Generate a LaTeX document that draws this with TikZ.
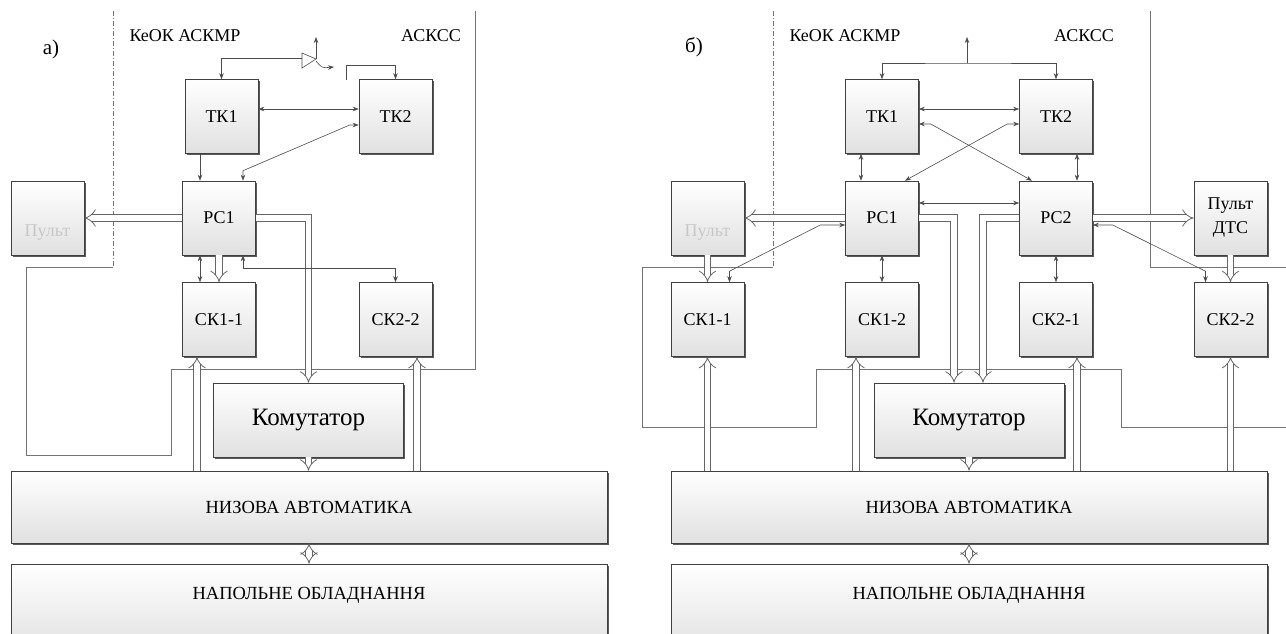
\documentclass[tikz,border=0pt]{standalone}
\usepackage{fontspec}
\setmainfont{Liberation Serif}
\usetikzlibrary{arrows.meta,shadows}
\newcommand{\boxfnt}   {\fontsize{18}{24}\selectfont}
\newcommand{\bigfnt}   {\fontsize{25}{28}\selectfont}
\newcommand{\rowfnt}   {\fontsize{18.5}{22}\selectfont}

\begin{document}
\begin{tikzpicture}[x=1pt,y=-1pt,
   blk/.style={draw=black!75,line width=0.6pt,top color=white,bottom color=black!12,
      minimum width=73pt,minimum height=74pt,inner sep=0pt,align=center,font=\boxfnt,
      drop shadow={shadow xshift=1.6pt,shadow yshift=-1.6pt,fill=black!65,opacity=1}},
   kom/.style={blk,minimum width=190pt,font=\bigfnt},
   row/.style={blk,minimum width=596pt,minimum height=72pt,font=\rowfnt},
   txt/.style={inner sep=0pt,font=\boxfnt},
   ln/.style={draw=black!70,line width=0.6pt},
   arr/.style={ln,-{Stealth[length=6pt,width=4.5pt]}},
   arr2/.style={ln,{Stealth[length=6pt,width=4.5pt]}-{Stealth[length=6pt,width=4.5pt]}},
   hol/.style={draw=black!60,line width=0.8pt,double=white,double distance=5.5pt,-{Implies}},
   hol2/.style={hol,{Implies}-{Implies}},
   bound/.style={draw=black!55,line width=0.7pt},
   dashb/.style={bound,dash pattern=on 5pt off 2pt on 1pt off 2pt}]
   \useasboundingbox (0,0) rectangle (1286,633);

   \draw[dashb] (113,11) -- (113,267);
   \draw[bound] (113,267) -- (26,267) -- (26,455) -- (171,455) -- (171,369) -- (475,369) -- (475,11);
   \draw[dashb] (773,11) -- (773,267);
   \draw[bound] (773,267) -- (642,267) -- (642,427) -- (816,427) -- (816,369) -- (1121,369) -- (1121,427) -- (1286,427);
   \draw[bound] (1150,11) -- (1150,267) -- (1286,267);

   \node[txt,font=\fontsize{21}{24}\selectfont] (capA) at (51,49) {а)};
   \node[txt] (keokA) at (185,36) {КеОК АСКМР};
   \node[txt] (askssA) at (431,36) {АСКСС};
   \node[blk] (tkA1) at (221.5,116.5) {ТК1};
   \node[blk] (tkA2) at (395.5,116.5) {ТК2};
   \node[blk] (rsA1) at (219,218) {РС1};
   \node[blk,text=black!22,text height=36pt,text depth=0pt] (pultA) at (47.5,218) {Пульт};
   \node[blk] (skA11) at (219,319.5) {СК1-1};
   \node[blk] (skA22) at (395.5,319.5) {СК2-2};
   \node[kom] (komA) at (308.5,420) {Комутатор};
   \node[row] (nizA) at (309,507) {НИЗОВА АВТОМАТИКА};
   \node[row,minimum height=90pt,text height=12pt,text depth=32pt] (napA) at (309,609) {НАПОЛЬНЕ ОБЛАДНАННЯ};

   \coordinate (forkA) at (302,58);
   \coordinate (upA) at (316,37);
   \coordinate (stubA) at (346,80);
   \draw[arr] (forkA) -| (tkA1.north);
   \draw[ln] (302,53) -- (302,68) -- (316,59) -- cycle;
   \draw[arr] (316,59) -- (upA);
   \draw[arr] (316,61) .. controls (322,68) .. (334,67);
   \draw[arr] (stubA) |- ([yshift=14pt]tkA2.north) -- (tkA2.north);
   \draw[arr2] ([yshift=7.5pt]tkA1.east) -- ([yshift=7.5pt]tkA2.west);
   \draw[arr2] ([xshift=24pt]rsA1.north) -- ++(0,-10) -- ([xshift=-9pt,yshift=-8.5pt]tkA2.west) -- ([yshift=-8.5pt]tkA2.west);
   \draw[arr] ([xshift=-21.5pt]tkA1.south) -- ([xshift=-19pt]rsA1.north);
   \draw[hol] (rsA1.west) -- (pultA.east);
   \draw[hol] (rsA1.east) -| (komA.north);
   \draw[arr2] ([xshift=-19pt]rsA1.south) -- ([xshift=-19pt]skA11.north);
   \draw[hol] (rsA1.south) -- (skA11.north);
   \draw[arr2] ([xshift=24pt]rsA1.south) -- ++(0,13) -| (skA22.north);
   \coordinate (laneA1) at ([xshift=-22pt]skA11.south);
   \coordinate (laneA2) at ([xshift=21.5pt]skA22.south);
   \draw[hol] (nizA.north -| laneA1) -- (laneA1);
   \draw[hol] (nizA.north -| laneA2) -- (laneA2);
   \draw[hol] (komA.south) -- (komA.south |- nizA.north);
   \draw[hol2] (nizA.south) -- (napA.north);

   \node[txt,font=\fontsize{21}{24}\selectfont] (capB) at (694,47) {б)};
   \node[txt] (keokB) at (845,36) {КеОК АСКМР};
   \node[txt] (askssB) at (1084,36) {АСКСС};
   \node[blk] (tkB1) at (882,116.5) {ТК1};
   \node[blk] (tkB2) at (1056,116.5) {ТК2};
   \node[blk] (rsB1) at (882,218) {РС1};
   \node[blk] (rsB2) at (1056,218) {РС2};
   \node[blk,text=black!22,text height=36pt,text depth=0pt] (pultB) at (707.5,218) {Пульт};
   \node[blk] (dtsB) at (1230.5,218) {Пульт\\ДТС};
   \node[blk] (skB11) at (707.5,319.5) {СК1-1};
   \node[blk] (skB12) at (882,319.5) {СК1-2};
   \node[blk] (skB21) at (1056,319.5) {СК2-1};
   \node[blk] (skB22) at (1230.5,319.5) {СК2-2};
   \node[kom] (komB) at (969,420) {Комутатор};
   \node[row] (nizB) at (969,507) {НИЗОВА АВТОМАТИКА};
   \node[row,minimum height=90pt,text height=12pt,text depth=32pt] (napB) at (969,609) {НАПОЛЬНЕ ОБЛАДНАННЯ};

   \coordinate (busB) at (967,63);
   \coordinate (upB) at (967,37);
   \draw[arr2] (tkB1.north) |- (busB) -| (tkB2.north);
   \draw[arr] (busB) -- (upB);
   \draw[arr2] ([yshift=7.5pt]tkB1.east) -- ([yshift=7.5pt]tkB2.west);
   \draw[arr2] ([yshift=-7.5pt]tkB1.east) -- ++(12,0) -- ([xshift=-24pt]rsB2.north);
   \draw[arr2] ([yshift=-7.5pt]tkB2.west) -- ++(-12,0) -- ([xshift=23pt]rsB1.north);
   \draw[arr2] ([xshift=-21pt]tkB1.south) -- ([xshift=-21pt]rsB1.north);
   \draw[arr2] ([xshift=21pt]tkB2.south) -- ([xshift=21pt]rsB2.north);
   \draw[arr2] ([yshift=15pt]rsB1.east) -- ([yshift=15pt]rsB2.west);
   \draw[hol] (rsB1.west) -- (pultB.east);
   \draw[hol] (rsB2.east) -- (dtsB.west);
   \draw[arr2] ([yshift=-7pt]rsB1.west) -- ++(-25,0) -- ([xshift=22pt,yshift=11pt]skB11.north) -- ([xshift=22pt]skB11.north);
   \draw[arr2] ([yshift=-7pt]rsB2.east) -- ++(20,0) -- ([xshift=-25pt,yshift=11pt]skB22.north) -- ([xshift=-25pt]skB22.north);
   \draw[hol] (pultB.south) -- (skB11.north);
   \draw[hol] (dtsB.south) -- (skB22.north);
   \draw[hol] (rsB1.east) -| ([xshift=-15pt]komB.north);
   \draw[hol] (rsB2.west) -| ([xshift=14pt]komB.north);
   \draw[arr2] (rsB1.south) -- (skB12.north);
   \draw[arr2] (rsB2.south) -- (skB21.north);
   \coordinate (laneB2) at ([xshift=-26pt]skB12.south);
   \coordinate (laneB3) at ([xshift=21pt]skB21.south);
   \draw[hol] (nizB.north -| skB11.south) -- (skB11.south);
   \draw[hol] (nizB.north -| laneB2) -- (laneB2);
   \draw[hol] (nizB.north -| laneB3) -- (laneB3);
   \draw[hol] (nizB.north -| skB22.south) -- (skB22.south);
   \draw[hol] (komB.south) -- (komB.south |- nizB.north);
   \draw[hol2] (nizB.south) -- (napB.north);
  \end{tikzpicture}
\end{document}
